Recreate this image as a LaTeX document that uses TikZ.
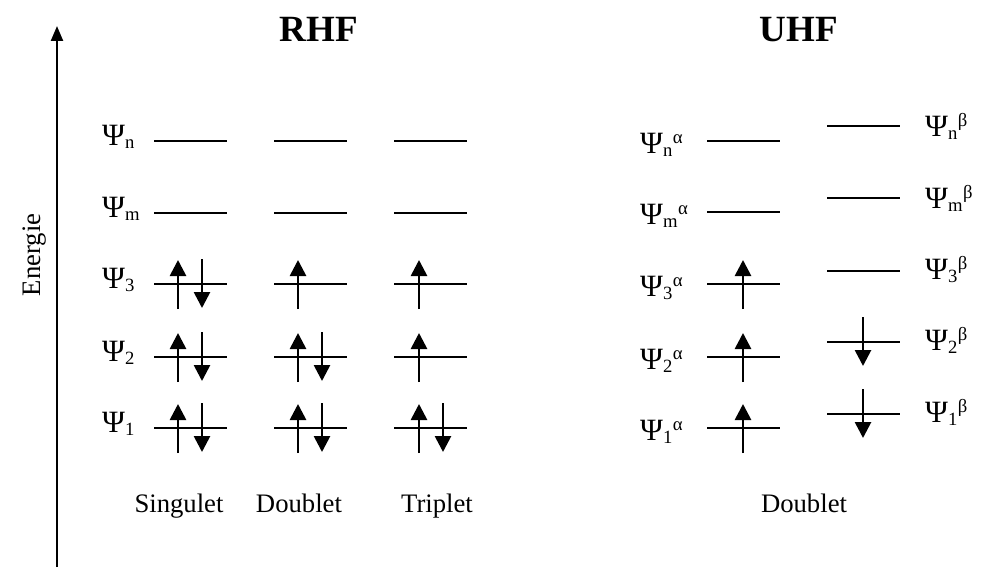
\documentclass[tikz,border=0pt]{standalone}
\usepackage{fontspec}
\setmainfont{Liberation Serif}
\usetikzlibrary{arrows.meta}
\tikzset{
  lvl/.style={line width=2.3pt},
  espin/.style={line width=2.7pt,-{Triangle[length=16pt,width=16pt]}},
  axisline/.style={line width=2.4pt,-{Triangle[length=15pt,width=12pt]}},
  lab/.style={font=\fontsize{26.7}{30}\selectfont,inner sep=0pt},
  ttl/.style={font=\fontsize{37}{40}\selectfont\bfseries,inner sep=0pt},
}
\newcommand{\PsiG}{{\fontsize{31}{30}\selectfont Ψ}}
% level: x-start, y
\newcommand{\lvlat}[2]{\draw[lvl] (#1,#2) -- ++(73,0);}
\newcommand{\upat}[2]{\draw[espin] (#1,#2+25) -- (#1,#2-24);}
\newcommand{\dnat}[2]{\draw[espin] (#1,#2-25) -- (#1,#2+24);}
\begin{document}
\begin{tikzpicture}[x=1pt,y=-1pt]
\useasboundingbox (0,0) rectangle (981,567);
% axis
\coordinate (axb) at (57,567);
\coordinate (axt) at (57,26);
\draw[axisline] (axb) -- (axt);
\node[lab,rotate=90] (energie) at (35,255) {Energie};
% titles
\node[ttl,anchor=base] (rhf) at (319,42) {RHF};
\node[ttl,anchor=base] (uhf) at (799,42) {UHF};
% RHF labels
\node[lab,anchor=base west] (rn) at (102,145) {\PsiG\textsubscript{n}};
\node[lab,anchor=base west] (rm) at (102,217) {\PsiG\textsubscript{m}};
\node[lab,anchor=base west] (r3) at (102,288) {\PsiG\textsubscript{3}};
\node[lab,anchor=base west] (r2) at (102,361) {\PsiG\textsubscript{2}};
\node[lab,anchor=base west] (r1) at (102,432) {\PsiG\textsubscript{1}};
% RHF levels
\foreach \x in {154,274,394}{
  \foreach \y in {141,213,284,357,428}{\lvlat{\x}{\y}}
}
% Singulet
\foreach \y in {284,357,428}{\upat{178}{\y}\dnat{202}{\y}}
% Doublet
\foreach \y in {357,428}{\upat{298}{\y}\dnat{322}{\y}}
\upat{298}{284}
% Triplet
\upat{419}{428}\dnat{443}{428}
\upat{419}{357}
\upat{419}{284}
% bottom labels
\node[lab,anchor=base] (sing) at (179,512) {Singulet};
\node[lab,anchor=base] (doub) at (299,512) {Doublet};
\node[lab,anchor=base] (trip) at (437,512) {Triplet};
\node[lab,anchor=base] (doubu) at (804,512) {Doublet};
% UHF alpha
\foreach \y in {141,212,284,357,428}{\lvlat{707}{\y}}
\foreach \y in {284,357,428}{\upat{743}{\y}}
\node[lab,anchor=base west] (an) at (640,153) {\PsiG\textsubscript{n}\textsuperscript{α}};
\node[lab,anchor=base west] (am) at (640,224) {\PsiG\textsubscript{m}\textsuperscript{α}};
\node[lab,anchor=base west] (a3) at (640,296) {\PsiG\textsubscript{3}\textsuperscript{α}};
\node[lab,anchor=base west] (a2) at (640,369) {\PsiG\textsubscript{2}\textsuperscript{α}};
\node[lab,anchor=base west] (a1) at (640,440) {\PsiG\textsubscript{1}\textsuperscript{α}};
% UHF beta
\foreach \y in {126,198,271,342,414}{\lvlat{827}{\y}}
\foreach \y in {342,414}{\dnat{863}{\y}}
\node[lab,anchor=base west] (bn) at (925,136) {\PsiG\textsubscript{n}\textsuperscript{β}};
\node[lab,anchor=base west] (bm) at (925,208) {\PsiG\textsubscript{m}\textsuperscript{β}};
\node[lab,anchor=base west] (b3) at (925,279) {\PsiG\textsubscript{3}\textsuperscript{β}};
\node[lab,anchor=base west] (b2) at (925,350) {\PsiG\textsubscript{2}\textsuperscript{β}};
\node[lab,anchor=base west] (b1) at (925,422) {\PsiG\textsubscript{1}\textsuperscript{β}};
\end{tikzpicture}
\end{document}
